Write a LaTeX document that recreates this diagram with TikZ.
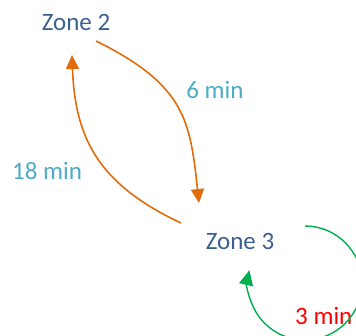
\documentclass[tikz,border=0pt]{standalone}
\usepackage{fontspec}
\setmainfont{Carlito}
\usetikzlibrary{arrows.meta}
\definecolor{zoneblue}{HTML}{3B5F8F}
\definecolor{flow}{HTML}{E36C0A}
\definecolor{loopgreen}{HTML}{00B050}
\definecolor{timecyan}{HTML}{4BACC6}
\begin{document}
\begin{tikzpicture}[x=1pt,y=1pt,
  zone/.style={inner sep=0pt, text=zoneblue, font=\fontsize{25}{30}\selectfont},
  timelbl/.style={inner sep=0pt, text=timecyan, font=\fontsize{25}{30}\selectfont},
  flowarrow/.style={draw=flow, line width=1.6pt, -{Triangle[length=14pt,width=13pt]}},
  looparrow/.style={draw=loopgreen, line width=1.4pt, -{Triangle[length=15pt,width=14pt]}}]
\useasboundingbox (0,0) rectangle (356,335);
\clip (0,0) rectangle (356,335);

% zones
\node[zone] (z2) at (76,313) {Zone 2};
\node[zone] (z3) at (240,94) {Zone 3};

% travel times
\node[timelbl] (t6) at (215,245) {6 min};
\node[timelbl] (t18) at (47,164) {18 min};
\node[inner sep=0pt, text=red, font=\fontsize{25}{30}\selectfont, anchor=west] (t3) at (295,19) {3 min};

% connector end points
\coordinate (z2out) at (96,294);
\coordinate (z3in) at (199,132);
\coordinate (z3out) at (181,112);
\coordinate (z2in) at (72,280);
\coordinate (loopstart) at (305,109);

% Zone 2 -> Zone 3
\draw[flowarrow] (z2out) .. controls (185,250) and (190,215) .. (z3in);
% Zone 3 -> Zone 2
\draw[flowarrow] (z3out) .. controls (100,150) and (75,195) .. (z2in);
% Zone 3 -> Zone 3
\draw[looparrow] (loopstart) arc[start angle=90, end angle=-193, radius=57];
\end{tikzpicture}
\end{document}
